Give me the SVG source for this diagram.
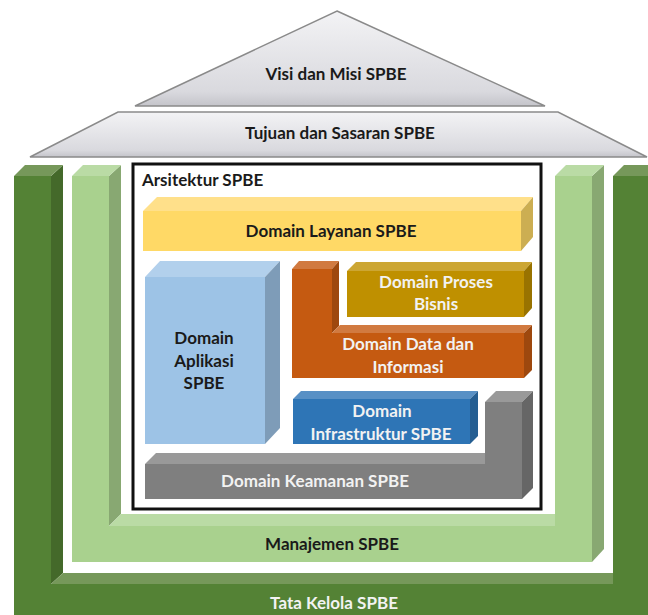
<svg xmlns="http://www.w3.org/2000/svg" width="648" height="615" viewBox="0 0 648 615">
<defs>
<linearGradient id="roofG" x1="0" y1="0" x2="0" y2="1">
<stop offset="0" stop-color="#f3f3f5"/>
<stop offset="0.85" stop-color="#d9d9de"/>
<stop offset="1" stop-color="#c4c4ca"/>
</linearGradient>
<style>
text{font-family:Lato,"Liberation Sans",sans-serif;font-weight:bold;font-size:17px;text-anchor:middle}
.roof{fill:url(#roofG);stroke:#8a8a8a;stroke-width:1.5}
.dk{fill:#1a1a1a}
.wt{fill:#f2f2f2}
</style>
</defs>
<rect width="648" height="615" fill="#ffffff"/>

<g id="tata-kelola">
<polygon points="14,176 51,176 51,584 613,584 613,176 648,176 648,615 14,615" fill="#548235"/>
<polygon points="51,176 63,165 63,573 51,584" fill="#44692a"/>
<polygon points="51,584 63,573 613,573 613,584" fill="#76985a"/>
<polygon points="14,176 25,165 63,165 51,176" fill="#76985a"/>
<polygon points="613,176 624,165 660,165 648,176" fill="#76985a"/>
<text x="334" y="609" class="wt" fill="#ffffff">Tata Kelola SPBE</text>
</g>

<g id="manajemen">
<polygon points="72,176 109,176 109,526 555,526 555,176 592,176 592,562 72,562" fill="#a9d18e"/>
<polygon points="109,176 121,165 121,514 109,526" fill="#88a872"/>
<polygon points="109,526 121,514 555,514 555,526" fill="#badba5"/>
<polygon points="592,176 604,165 604,549 592,562" fill="#88a872"/>
<polygon points="72,176 83,165 121,165 109,176" fill="#badba5"/>
<polygon points="555,176 566,165 604,165 592,176" fill="#badba5"/>
<text x="332" y="550" class="dk">Manajemen SPBE</text>
</g>

<g id="roof-tujuan">
<polygon class="roof" points="118,112 558,112 647,157 30,157"/>
<text x="340" y="139" class="dk">Tujuan dan Sasaran SPBE</text>
</g>

<g id="roof-visi">
<polygon class="roof" points="337,11 545,106 135,106"/>
<text x="336" y="80" class="dk">Visi dan Misi SPBE</text>
</g>

<g id="arsitektur">
<rect x="133" y="164" width="408" height="345" fill="#ffffff" stroke="#111111" stroke-width="3"/>
<text x="142" y="186" class="dk" style="text-anchor:start">Arsitektur SPBE</text>
</g>

<g id="layanan">
<rect x="143" y="211" width="378" height="40" fill="#ffd966"/>
<polygon points="143,211 157,197 533,197 521,211" fill="#ffe08a"/>
<polygon points="521,211 533,197 533,237 521,251" fill="#ccae52"/>
<text x="331" y="237" class="dk">Domain Layanan SPBE</text>
</g>

<g id="aplikasi">
<rect x="145" y="277" width="120" height="167" fill="#9dc3e6"/>
<polygon points="145,277 160,261 280,261 265,277" fill="#b2d0ec"/>
<polygon points="265,277 280,261 280,428 265,444" fill="#7e9cb8"/>
<text x="204" y="344" class="dk">Domain</text>
<text x="204" y="367" class="dk">Aplikasi</text>
<text x="204" y="389" class="dk">SPBE</text>
</g>

<g id="data-informasi">
<polygon points="292,269 332,269 332,333 524,333 524,378 292,378" fill="#c55a11"/>
<polygon points="292,269 299,261 339,261 332,269" fill="#d17a40"/>
<polygon points="332,269 339,261 339,326 332,333" fill="#9e480e"/>
<polygon points="332,333 340,325 532,325 524,333" fill="#d17a40"/>
<polygon points="524,333 532,325 532,370 524,378" fill="#9e480e"/>
<text x="408" y="350" class="wt">Domain Data dan</text>
<text x="408" y="373" class="wt">Informasi</text>
</g>

<g id="proses-bisnis">
<rect x="347" y="271" width="177" height="46" fill="#bf9000"/>
<polygon points="347,271 356,262 532,262 524,271" fill="#cca633"/>
<polygon points="524,271 532,262 532,308 524,317" fill="#997300"/>
<text x="436" y="288" class="wt">Domain Proses</text>
<text x="436" y="310" class="wt">Bisnis</text>
</g>

<g id="infrastruktur">
<rect x="293" y="399" width="177" height="45" fill="#2e75b6"/>
<polygon points="293,399 301,391 478,391 470,399" fill="#5890c5"/>
<polygon points="470,399 478,391 478,436 470,444" fill="#255e92"/>
<text x="382" y="417" class="wt">Domain</text>
<text x="381" y="440" class="wt">Infrastruktur SPBE</text>
</g>

<g id="keamanan">
<polygon points="145,464 485,464 485,402 522,402 522,499 145,499" fill="#7f7f7f"/>
<polygon points="145,464 156,453 485,453 485,464" fill="#999999"/>
<polygon points="485,402 496,391 533,391 522,402" fill="#999999"/>
<polygon points="522,402 533,391 533,488 522,499" fill="#666666"/>
<text x="315" y="487" class="wt">Domain Keamanan SPBE</text>
</g>
</svg>
